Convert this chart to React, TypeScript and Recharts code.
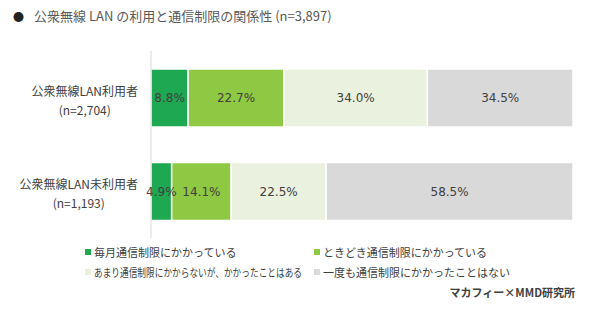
import { BarChart, Bar, XAxis, YAxis, LabelList } from "recharts";

const groups = ["公衆無線LAN利用者", "公衆無線LAN未利用者"];
const sampleSizes = ["(n=2,704)", "(n=1,193)"];
const monthly = [8.8, 4.9];
const sometimes = [22.7, 14.1];
const rarely = [34.0, 22.5];
const never = [34.5, 58.5];

const seriesNames = [
  "毎月通信制限にかかっている",
  "ときどき通信制限にかかっている",
  "あまり通信制限にかからないが、かかったことはある",
  "一度も通信制限にかかったことはない",
];
const seriesKeys = ["monthly", "sometimes", "rarely", "never"];
const seriesColors = ["#1ea851", "#8fc842", "#ebf1df", "#d9d9d9"];

const data = groups.map((g, i) => ({
  group: g,
  n: sampleSizes[i],
  monthly: monthly[i],
  sometimes: sometimes[i],
  rarely: rarely[i],
  never: never[i],
}));

const jpFont = "'Noto Sans CJK JP', 'Noto Sans', sans-serif";

const measure = (text: string, font: string) => {
  const c = document.createElement("canvas").getContext("2d");
  if (!c) return text.length * 12;
  c.font = font;
  return c.measureText(text).width;
};

const GroupTick = (props: any) => {
  const { x, y, payload, index } = props;
  const label = payload.value as string;
  const w = measure(label, `12px ${jpFont}`);
  const cx = x - 5 - w / 2;
  return (
    <g>
      <text x={cx} y={y - 2} textAnchor="middle" fontSize={12} fill="#404040" fontFamily={jpFont}>
        {label}
      </text>
      <text x={cx} y={y + 17} textAnchor="middle" fontSize={12} fill="#404040" fontFamily={jpFont}>
        {sampleSizes[index]}
      </text>
    </g>
  );
};

// fit long legend labels into their column, like the condensed font of the original
const LegendLabel = ({ text, max }: { text: string; max: number }) => {
  const w = measure(text, `11px ${jpFont}`);
  const s = w > max ? max / w : 1;
  return (
    <span style={{ display: "inline-block", transform: `scaleX(${s})`, transformOrigin: "left center" }}>{text}</span>
  );
};

const LegendBox = () => (
  <div
    style={{
      position: "absolute",
      left: 85,
      top: 242,
      fontFamily: jpFont,
      fontSize: 11,
      color: "#404040",
      lineHeight: "20px",
      whiteSpace: "nowrap",
    }}
  >
    {[0, 1].map((row) => (
      <div key={row} style={{ display: "flex" }}>
        {[0, 1].map((col) => {
          const i = row * 2 + col;
          return (
            <div key={col} style={{ width: col === 0 ? 229 : 260, display: "flex", alignItems: "center" }}>
              <span
                style={{
                  display: "inline-block",
                  flex: "none",
                  width: 6,
                  height: 6,
                  background: seriesColors[i],
                  marginRight: 3,
                }}
              />
              <LegendLabel text={seriesNames[i]} max={col === 0 ? 208 : 250} />
            </div>
          );
        })}
      </div>
    ))}
  </div>
);

const pct = (v: any) => `${Number(v).toFixed(1)}%`;

export default function App() {
  return (
    <div style={{ position: "fixed", left: 0, top: 0, width: 590, height: 319, background: "#fff" }}>
      <div
        style={{
          position: "absolute",
          left: 13,
          top: 6,
          fontFamily: jpFont,
          fontSize: 13,
          color: "#595959",
          whiteSpace: "nowrap",
        }}
      >
        <span style={{ color: "#222", fontSize: 11, marginRight: 10 }}>●</span>
        公衆無線 LAN の利用と通信制限の関係性 (n=3,897)
      </div>
      <BarChart
        width={590}
        height={319}
        data={data}
        layout="vertical"
        margin={{ top: 51, right: 17, bottom: 81, left: 0 }}
        barSize={58}
      >
        <XAxis type="number" hide domain={[0, 100]} />
        <YAxis
          type="category"
          dataKey="group"
          width={151}
          axisLine={{ stroke: "#d9d9d9" }}
          tickLine={false}
          tick={<GroupTick />}
          interval={0}
        />
        {seriesKeys.map((k, i) => (
          <Bar
            key={k}
            dataKey={k}
            name={seriesNames[i]}
            stackId="a"
            fill={seriesColors[i]}
            stroke="#fff"
            strokeWidth={1.5}
            isAnimationActive={false}
          >
            <LabelList
              dataKey={k}
              position="center"
              formatter={pct}
              fill="#404040"
              fontSize={12}
              fontFamily="'DejaVu Sans', Verdana, sans-serif"
            />
          </Bar>
        ))}
      </BarChart>
      <LegendBox />
      <div
        style={{
          position: "absolute",
          right: 15,
          top: 284,
          fontFamily: jpFont,
          fontSize: 11,
          fontWeight: 700,
          color: "#404040",
        }}
      >
        マカフィー×MMD研究所
      </div>
    </div>
  );
}
